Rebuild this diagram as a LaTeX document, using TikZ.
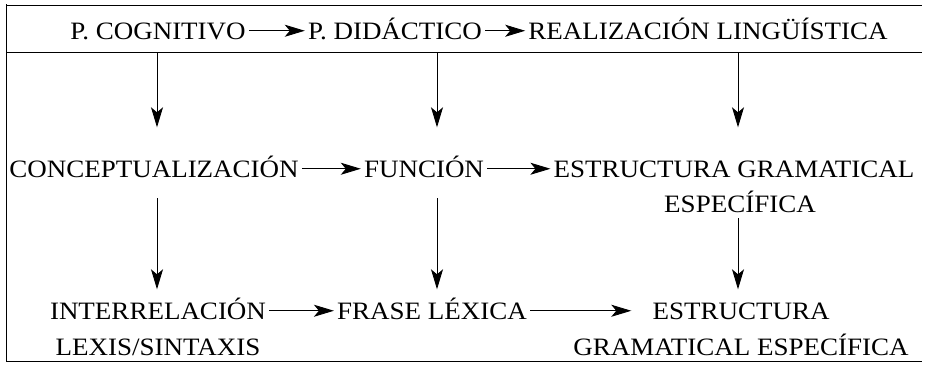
\documentclass[tikz,border=0pt]{standalone}
\usepackage{fontspec}
\setmainfont{Liberation Serif}[FakeStretch=1.08]
\usetikzlibrary{arrows.meta}

\begin{document}
\begin{tikzpicture}
  [x=1pt,y=1pt
  ,font=\fontsize{25}{30}\selectfont
  ,word/.style={inner sep=3pt,text height=16.5pt,text depth=0pt,anchor=base}
  ,arr/.style={line width=0.9pt,-{Stealth[length=20pt,width=12pt,inset=5pt]}}
  ,rule/.style={line width=0.8pt}
  ]

  % Word on the page
  %
  % #1 - name
  % #2 - x position
  % #3 - baseline, from the top
  % #4 - text
  \newcommand{\wnode}[4]{
    \node[word] (#1) at (#2,-#3) {#4};
  }

  \useasboundingbox (0,0) rectangle (925,-364);

  % frame
  \draw[rule] (6,-4) -- (6,-361);
  \draw[rule] (6,-5) -- (922,-5);
  \draw[rule] (6,-52) -- (922,-52);
  \draw[rule] (6,-361) -- (922,-361);

  % columns
  \coordinate (colA) at (157,-52);
  \coordinate (colB) at (437,-52);
  \coordinate (colC) at (738,-52);

  % row 1
  \wnode{cog}{158}{39}{P. COGNITIVO}
  \wnode{did}{395}{39}{P. DIDÁCTICO}
  \wnode{real}{708}{39}{REALIZACIÓN LINGÜÍSTICA}

  % row 2
  \wnode{concept}{154}{177}{CONCEPTUALIZACIÓN}
  \wnode{fun}{424}{177}{FUNCIÓN}
  \wnode{estrA}{734}{177}{ESTRUCTURA GRAMATICAL}
  \wnode{estrB}{740}{212}{ESPECÍFICA}

  % row 3
  \wnode{inter}{158}{319}{INTERRELACIÓN}
  \wnode{lexis}{158}{355}{LEXIS/SINTAXIS}
  \wnode{frase}{432}{319}{FRASE LÉXICA}
  \wnode{estrC}{741}{319}{ESTRUCTURA}
  \wnode{gram}{741}{355}{GRAMATICAL ESPECÍFICA}

  % across
  \draw[arr] (cog) -- (did);
  \draw[arr] (did) -- (real);
  \draw[arr] (concept) -- (fun);
  \draw[arr] (fun) -- (estrA);
  \draw[arr] (inter) -- (frase);
  \draw[arr,shorten >=18pt] (frase) -- (estrC);

  % down
  \draw[arr,shorten >=30pt] (colA) -- (concept.north -| colA);
  \draw[arr,shorten >=30pt] (colB) -- (fun.north -| colB);
  \draw[arr,shorten >=30pt] (colC) -- (estrA.north -| colC);
  \draw[arr,shorten <=18pt,shorten >=10pt] (concept.south -| colA) -- (inter.north -| colA);
  \draw[arr,shorten <=18pt,shorten >=10pt] (fun.south -| colB) -- (frase.north -| colB);
  \draw[arr,shorten <=3pt,shorten >=10pt] (estrB.south -| colC) -- (estrC.north -| colC);

\end{tikzpicture}
\end{document}
